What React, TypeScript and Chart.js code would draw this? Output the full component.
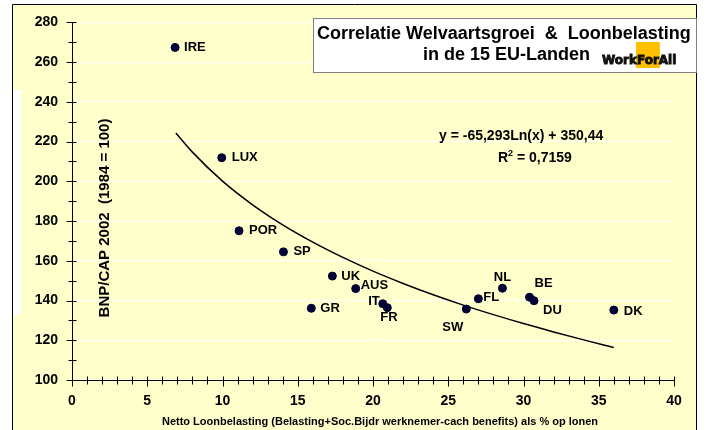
import React, { useEffect, useRef } from "react";
import { Chart, registerables } from "chart.js";

Chart.register(...registerables);

// ---- data ----
const countries = ["IRE", "LUX", "POR", "SP", "GR", "UK", "AUS", "IT", "FR", "SW", "FL", "NL", "BE", "DU", "DK"];
const taxRate = [6.85, 9.95, 11.1, 14.05, 15.9, 17.3, 18.85, 20.65, 20.95, 26.2, 27.0, 28.6, 30.4, 30.7, 36.0];
const gdpIndex = [267.4, 211.9, 175.1, 164.5, 136.1, 152.3, 146.0, 138.4, 136.4, 135.7, 140.9, 146.2, 141.7, 139.9, 135.2];

// trend line as drawn in the picture
const trendX = [6.9, 8, 10, 12, 14, 16, 18, 20, 22, 24, 26, 28, 30, 32, 34, 36];
const trendY = [224.3, 214.7, 200.1, 188.2, 178.1, 169.4, 161.7, 154.8, 148.6, 142.9, 137.7, 132.9, 128.4, 124.2, 120.2, 116.4];

const xMin = 0, xMax = 40, xStep = 5;
const yMin = 100, yMax = 280, yStep = 20;

const titleLine1 = "Correlatie Welvaartsgroei  &  Loonbelasting";
const titleLine2 = "in de 15 EU-Landen";
const brand = ["Work", "For", "All"];
const equationText = "y = -65,293Ln(x) + 350,44";
const r2Text = "0,7159";
const yTitle = "BNP/CAP 2002  (1984 = 100)";
const xTitle = "Netto Loonbelasting (Belasting+Soc.Bijdr werknemer-cach benefits) als % op lonen";

// label placement (style): dx, dy, align
const labelOffsets: [number, number, CanvasTextAlign][] = [
  [9, 0, "left"],
  [10, 0, "left"],
  [10, 0, "left"],
  [10, 0, "left"],
  [9, 0, "left"],
  [9, 0, "left"],
  [5, -3, "left"],
  [-3, -2, "right"],
  [-7, 10, "left"],
  [-3, 18, "right"],
  [5, -1, "left"],
  [0, -11, "center"],
  [5, -14, "left"],
  [9, 10, "left"],
  [10, 1, "left"],
];

const FONT = "'Liberation Sans', Arial, sans-serif";

const decorPlugin = {
  id: "decor",
  beforeDraw(chart: any) {
    const ctx = chart.ctx as CanvasRenderingContext2D;
    ctx.save();
    ctx.fillStyle = "#ffffff";
    ctx.fillRect(0, 0, 708, 430);
    ctx.fillStyle = "#ffffcc";
    ctx.fillRect(12, 4, 685, 426);
    ctx.fillStyle = "#ffffff";
    ctx.fillRect(13, 90, 8, 225);
    ctx.strokeStyle = "#000000";
    ctx.lineWidth = 1;
    ctx.beginPath();
    ctx.moveTo(12.5, 430);
    ctx.lineTo(12.5, 4.5);
    ctx.lineTo(696.5, 4.5);
    ctx.lineTo(696.5, 430);
    ctx.stroke();
    ctx.restore();
  },
  afterDraw(chart: any) {
    const ctx = chart.ctx as CanvasRenderingContext2D;
    const xs = chart.scales.x;
    const ys = chart.scales.y;
    const area = chart.chartArea;
    ctx.save();
    ctx.strokeStyle = "#000000";
    ctx.lineWidth = 1;
    // y ticks (major + minor)
    const ax = Math.round(area.left) + 0.5;
    for (let v = yMin; v <= yMax; v += yStep / 2) {
      const py = Math.round(ys.getPixelForValue(v)) + 0.5;
      const major = (v - yMin) % yStep === 0;
      ctx.beginPath();
      ctx.moveTo(ax - (major ? 6 : 4), py);
      ctx.lineTo(ax + 4, py);
      ctx.stroke();
    }
    // x ticks
    const ay = Math.round(area.bottom) + 0.5;
    for (let v = xMin; v <= xMax; v += 1) {
      const px = Math.round(xs.getPixelForValue(v)) + 0.5;
      const major = (v - xMin) % xStep === 0;
      ctx.beginPath();
      ctx.moveTo(px, ay - 4);
      ctx.lineTo(px, ay + (major ? 6 : 4));
      ctx.stroke();
    }

    // point labels
    ctx.fillStyle = "#000000";
    ctx.font = `bold 13px ${FONT}`;
    ctx.textBaseline = "middle";
    countries.forEach((c, i) => {
      const px = xs.getPixelForValue(taxRate[i]);
      const py = ys.getPixelForValue(gdpIndex[i]);
      const [dx, dy, al] = labelOffsets[i];
      ctx.textAlign = al;
      ctx.fillText(c, px + dx, py + dy);
    });

    // y axis title (inside plot)
    ctx.save();
    ctx.translate(105, 218);
    ctx.rotate(-Math.PI / 2);
    ctx.font = `bold 15px ${FONT}`;
    ctx.textAlign = "center";
    ctx.textBaseline = "middle";
    ctx.fillText(yTitle, 0, 0);
    ctx.restore();

    // x axis title
    ctx.font = `bold 11px ${FONT}`;
    ctx.textAlign = "center";
    ctx.textBaseline = "alphabetic";
    ctx.fillText(xTitle, 380, 424.5);

    // title box
    ctx.fillStyle = "#ffffff";
    ctx.fillRect(313, 18, 383, 55);
    ctx.strokeStyle = "#808080";
    ctx.strokeRect(313.5, 18.5, 383, 54);
    ctx.fillStyle = "#000000";
    ctx.font = `bold 18px ${FONT}`;
    ctx.textAlign = "left";
    ctx.textBaseline = "alphabetic";
    ctx.fillText(titleLine1, 317, 39);
    ctx.fillText(titleLine2, 423, 60);

    // brand
    ctx.font = `bold 12px 'DejaVu Sans', sans-serif`;
    const bx = 602;
    const by = 63.5;
    const w0 = ctx.measureText(brand[0]).width;
    const w1 = ctx.measureText(brand[1]).width;
    ctx.fillStyle = "#ffc000";
    ctx.fillRect(bx + w0 - 1, 42, w1 + 2, 26);
    ctx.fillStyle = "#111111";
    ctx.strokeStyle = "#111111";
    ctx.lineWidth = 0.9;
    let cx = bx;
    brand.forEach((b) => {
      ctx.fillText(b, cx, by);
      ctx.strokeText(b, cx, by);
      cx += ctx.measureText(b).width;
    });

    // equation
    ctx.fillStyle = "#000000";
    ctx.font = `bold 14px ${FONT}`;
    ctx.textAlign = "left";
    ctx.fillText(equationText, 439, 139.5);
    let rx = 498;
    ctx.fillText("R", rx, 162);
    rx += ctx.measureText("R").width;
    ctx.font = `bold 9px ${FONT}`;
    ctx.fillText("2", rx, 155.5);
    rx += ctx.measureText("2").width;
    ctx.font = `bold 14px ${FONT}`;
    ctx.fillText(" = " + r2Text, rx, 162);

    ctx.restore();
  },
};

export default function App() {
  const ref = useRef<HTMLCanvasElement | null>(null);
  useEffect(() => {
    if (!ref.current) return;
    const points = taxRate.map((x, i) => ({ x, y: gdpIndex[i] }));
    const trend = trendX.map((x, i) => ({ x, y: trendY[i] }));
    const tickFont = { family: FONT, size: 14, weight: "bold" as const };
    const chart = new Chart(ref.current, {
      type: "scatter",
      data: {
        datasets: [
          {
            label: "Landen",
            data: points,
            pointRadius: 4,
            pointBackgroundColor: "#000033",
            pointBorderColor: "#000033",
            pointBorderWidth: 1,
            showLine: false,
          },
          {
            label: "Trend",
            data: trend,
            showLine: true,
            pointRadius: 0,
            borderColor: "#000000",
            borderWidth: 1.5,
            tension: 0.4,
            cubicInterpolationMode: "monotone",
            fill: false,
          } as any,
        ],
      },
      options: {
        responsive: false,
        animation: false,
        devicePixelRatio: 1,
        layout: { padding: { left: 0, right: 34, top: 17, bottom: 0 } },
        plugins: { legend: { display: false }, tooltip: { enabled: false }, title: { display: false } },
        events: [],
        scales: {
          x: {
            type: "linear",
            min: xMin,
            max: xMax,
            ticks: { stepSize: xStep, color: "#000000", font: tickFont, padding: 13, maxRotation: 0 },
            grid: { display: false, drawTicks: false },
            border: { display: true, color: "#000000", width: 1 },
            afterFit: (s: any) => {
              s.height = 50;
            },
          },
          y: {
            type: "linear",
            min: yMin,
            max: yMax,
            ticks: { stepSize: yStep, color: "#000000", font: tickFont, padding: 14 },
            grid: { color: "#ffffff", lineWidth: 1, drawTicks: false },
            border: { display: true, color: "#000000", width: 1 },
            afterFit: (s: any) => {
              s.width = 72;
            },
          },
        },
      },
      plugins: [decorPlugin],
    });
    return () => chart.destroy();
  }, []);
  return (
    <div style={{ position: "absolute", left: 0, top: 0, width: 708, height: 430 }}>
      <canvas ref={ref} width={708} height={430} style={{ width: 708, height: 430, display: "block" }} />
    </div>
  );
}
